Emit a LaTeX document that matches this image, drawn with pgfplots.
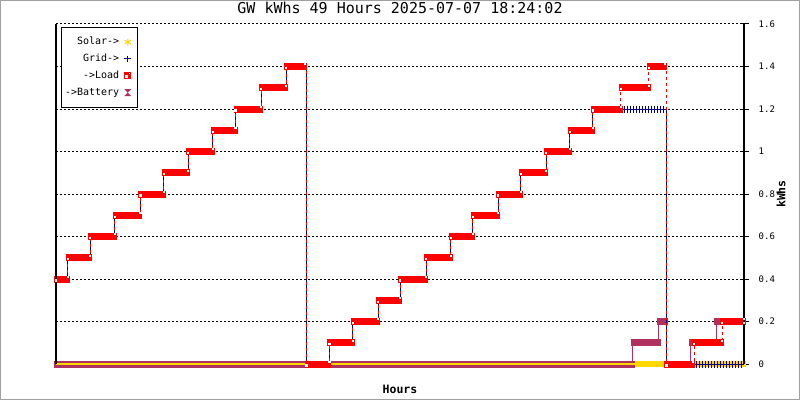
\documentclass[border=0pt]{standalone}
\usepackage{fontspec}
\setmainfont{DejaVu Sans Mono}
\usepackage{pgfplots}
\usepackage{pgfplotstable}
\pgfplotsset{compat=1.18}

\definecolor{solarc}{HTML}{FFD700}
\definecolor{gridc}{HTML}{000080}
\definecolor{loadc}{HTML}{FF0000}
\definecolor{batc}{HTML}{B03060}
\definecolor{framec}{HTML}{A0A0A0}

\newcommand\titlefont{\fontsize{15}{18}\selectfont}
\newcommand\labfont{\fontsize{11.5}{14}\selectfont\bfseries}
\newcommand\legfont{\fontsize{10}{12}\selectfont}
\newcommand\xtickfont{\fontsize{6.8}{8}\selectfont}
\newcommand\ytickfont{\fontsize{9}{11}\selectfont}

% battery marker (hourglass) and load marker (box with holes)
\pgfdeclareplotmark{hourglass}{%
  \pgfpathmoveto{\pgfqpoint{-\pgfplotmarksize}{\pgfplotmarksize}}%
  \pgfpathlineto{\pgfqpoint{\pgfplotmarksize}{\pgfplotmarksize}}%
  \pgfpathlineto{\pgfqpoint{-\pgfplotmarksize}{-\pgfplotmarksize}}%
  \pgfpathlineto{\pgfqpoint{\pgfplotmarksize}{-\pgfplotmarksize}}%
  \pgfpathclose\pgfusepathqfill}
\pgfdeclareplotmark{loadbox}{%
  \pgfpathrectangle{\pgfqpoint{-3.5pt}{-3.5pt}}{\pgfqpoint{7pt}{7pt}}\pgfusepathqfill
  \pgfsetfillcolor{white}%
  \pgfpathrectangle{\pgfqpoint{-2.3pt}{-2.3pt}}{\pgfqpoint{2.6pt}{2.6pt}}\pgfusepathqfill
  \pgfpathrectangle{\pgfqpoint{1.2pt}{1.3pt}}{\pgfqpoint{1.3pt}{1.2pt}}\pgfusepathqfill}
\pgfdeclareplotmark{dot}{%
  \pgfpathrectangle{\pgfqpoint{-1.1pt}{-1.1pt}}{\pgfqpoint{2.2pt}{2.2pt}}\pgfusepathqfill}

% hours after 18:00 on day one: start, end, kWh
\pgfplotstableread{
x0 x1 y
-0.643 0.21 0.4
0.21 1.79 0.5
1.79 3.57 0.6
3.57 5.39 0.7
5.39 7.07 0.8
7.07 8.79 0.9
8.79 10.57 1.0
10.57 12.18 1.1
12.18 14.00 1.2
14.00 15.79 1.3
15.79 17.14 1.4
17.25 18.89 0
18.89 20.57 0.1
20.57 22.36 0.2
22.36 23.93 0.3
23.93 25.79 0.4
25.79 27.57 0.5
27.57 29.14 0.6
29.14 30.93 0.7
30.93 32.57 0.8
32.57 34.36 0.9
34.36 36.07 1.0
36.07 37.71 1.1
37.71 39.71 1.2
39.71 41.71 1.3
41.71 42.86 1.4
42.96 44.86 0
44.93 46.93 0.1
46.93 48.5 0.2
48.5 48.5 0.2
}\loadtab

\pgfplotstableread{
x0 x1 y
-0.643 0.21 0.4
0.21 1.79 0.5
1.79 3.57 0.6
3.57 5.39 0.7
5.39 7.07 0.8
7.07 8.79 0.9
8.79 10.57 1.0
10.57 12.18 1.1
12.18 14.00 1.2
14.00 15.79 1.3
15.79 17.14 1.4
17.25 18.89 0
18.89 20.57 0.1
20.57 22.36 0.2
22.36 23.93 0.3
23.93 25.79 0.4
25.79 27.57 0.5
27.57 29.14 0.6
29.14 30.93 0.7
30.93 32.57 0.8
32.57 34.36 0.9
34.36 36.07 1.0
36.07 37.71 1.1
37.71 42.86 1.2
42.93 48.5 0
48.5 48.5 0
}\gridtab

% grid markers where they are not hidden under the load markers
\pgfplotstableread{
x0 x1 y
39.71 42.86 1.2
44.86 48.5 0
}\gridmarks

\pgfplotstableread{
x0 x1 y
-0.643 40.55 0
40.55 42.4 0.1
42.4 42.96 0.2
42.96 44.71 0
44.71 46.5 0.1
46.5 48.5 0.2
48.5 48.5 0.2
}\battab

\pgfplotstableread{
x0 x1 y
-0.643 48.5 0
48.5 48.5 0
}\solartab

% dense markers drawn as thick strokes from x0 to x1
\pgfplotsset{
  markband/.style={forget plot, no marks, line cap=butt,
    quiver={u=\thisrow{x1}-\thisrow{x0}+0.286, v=0}},
  markband exact/.style={forget plot, no marks, line cap=butt,
    quiver={u=\thisrow{x1}-\thisrow{x0}, v=0}},
}

\begin{document}
\begin{tikzpicture}
\useasboundingbox (0,0) rectangle (800pt,400pt);
\draw[framec, line width=1pt] (0.5pt,0.5pt) rectangle (799.5pt,399.5pt);
\begin{axis}[
    at={(56pt,36pt)}, anchor=south west,
    scale only axis, width=688pt, height=340pt,
    xmin=-0.643, xmax=48.5, ymin=0, ymax=1.6,
    clip=false,
    axis line style={draw=none},
    xtick={0,...,48},
    xticklabels={18,19,20,21,22,23,00,01,02,03,04,05,06,07,08,09,10,11,12,13,14,15,16,17,18,19,20,21,22,23,00,01,02,03,04,05,06,07,08,09,10,11,12,13,14,15,16,17,18},
    xmajorticks=false,
    xticklabel style={font=\xtickfont, anchor=center, yshift=-9pt},
    ytick={0,0.2,0.4,0.6,0.8,1,1.2,1.4,1.6},
    ytick pos=right, yticklabel pos=right,
    tick align=center, major tick length=9pt,
    y tick style={black, line width=1pt},
    /pgf/number format/assume math mode=true,
    yticklabel style={font=\ytickfont, anchor=west, inner sep=0pt, xshift=10pt},
    ymajorgrids,
    y grid style={black, line width=1pt, dash pattern=on 2pt off 2pt},
    title={GW kWhs 49 Hours 2025-07-07 18:24:02},
    title style={at={(axis description cs:0.5,1.0294)}, anchor=center, font=\titlefont},
    xlabel={Hours},
    xlabel style={at={(axis description cs:0.5,-0.0735)}, anchor=center, font=\labfont},
    ylabel={kWhs},
    ylabel style={at={(axis description cs:1.0538,0.5)}, anchor=center, font=\labfont},
    legend style={at={(axis description cs:0.0068,0.992)}, anchor=north west,
        draw=black, line width=0.8pt, fill=white, font=\legfont,
        inner xsep=3pt, inner ysep=9pt, row sep=4.8pt, column sep=4pt,
        nodes={inner sep=1pt, text height=7.5pt, text depth=2.5pt}},
    legend cell align=right, legend plot pos=right,
    legend image code/.code={\draw[#1] plot coordinates {(5pt,0pt)}; \path (11pt,0pt);},
]
\addlegendimage{mark=asterisk, mark size=3.6pt, solarc, line width=1pt}
\addlegendentry{Solar->}
\addlegendimage{mark=+, mark size=3.3pt, gridc, line width=1pt}
\addlegendentry{Grid->}
\addlegendimage{mark=loadbox, loadc}
\addlegendentry{->Load}
\addlegendimage{mark=hourglass, mark size=3.5pt, batc}
\addlegendentry{->Battery}

% solar markers
\addplot[markband, solarc, line width=6pt]
  table[x expr=\thisrow{x0}-0.143, y=y] {\solartab};
% battery markers and line
\addplot[markband, batc, line width=7pt]
  table[x expr=\thisrow{x0}-0.143, y=y] {\battab};
\addplot[const plot, batc, line width=1pt, forget plot] table[x=x0, y=y] {\battab};
% solar line
\addplot[const plot, solarc, line width=1.3pt, forget plot] table[x=x0, y=y] {\solartab};
% grid line and markers
\addplot[const plot, gridc, line width=1pt, forget plot] table[x=x0, y=y] {\gridtab};
\addplot[markband exact, gridc, line width=7pt, dash pattern=on 1pt off 2pt]
  table[x=x0, y=y] {\gridmarks};
% load line and markers
\addplot[const plot, loadc, line width=1pt, dash pattern=on 3pt off 3pt, forget plot]
  table[x=x0, y=y] {\loadtab};
\addplot[markband, loadc, line width=7pt]
  table[x expr=\thisrow{x0}-0.143, y=y] {\loadtab};
\addplot[only marks, forget plot, white, mark=dot]
  table[x=x0, y expr=\thisrow{y}-0.007] {\loadtab};
\addplot[only marks, forget plot, white, mark=dot]
  table[x=x1, y expr=\thisrow{y}+0.01] {\loadtab};

\draw[black, line width=1.3pt] (rel axis cs:0,0) -- (rel axis cs:0,1);
\draw[black, line width=1.3pt] (rel axis cs:1,0) -- (rel axis cs:1,1);
\end{axis}
\end{tikzpicture}
\end{document}
